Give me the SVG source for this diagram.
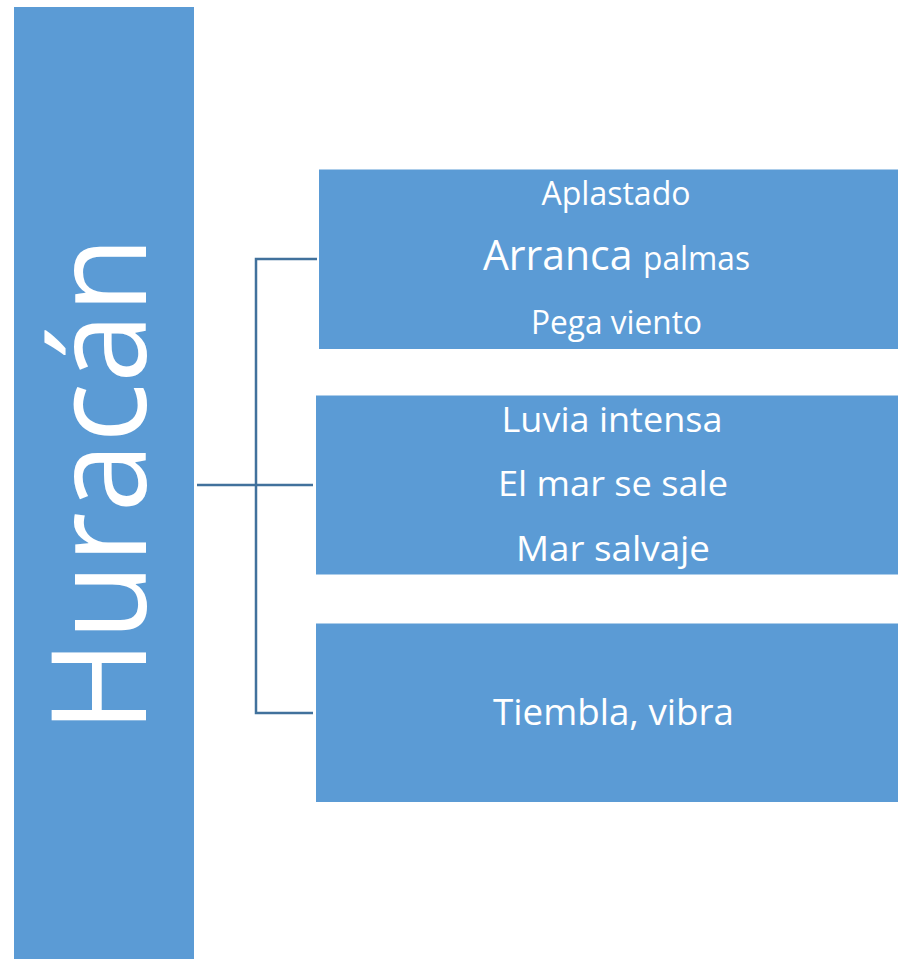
<svg xmlns="http://www.w3.org/2000/svg" width="898" height="959" viewBox="0 0 898 959">
<style>
.box{fill:#5B9BD5;}
.t{fill:#FFFFFF;font-family:"Open Sans","Noto Sans",sans-serif;text-anchor:middle;}
.c{stroke:#41719C;stroke-width:2.5;fill:none;}
</style>
<rect width="898" height="959" fill="#FFFFFF"/>
<g id="connectors">
<path class="c" d="M197 485H313"/>
<path class="c" d="M317 259H256V713H313"/>
</g>
<g id="huracan">
<rect class="box" x="14" y="7" width="180" height="952"/>
<text class="t" transform="translate(146,484.5) rotate(-90)" font-size="131" textLength="496" lengthAdjust="spacingAndGlyphs">Huracán</text>
</g>
<g id="node1">
<rect class="box" x="319" y="169.5" width="579" height="179.5"/>
<text class="t" x="616" y="205" font-size="32.5" textLength="149" lengthAdjust="spacingAndGlyphs">Aplastado</text>
<text class="t" x="616.5" y="270" font-size="42" textLength="267" lengthAdjust="spacingAndGlyphs">Arranca <tspan font-size="32.5">palmas</tspan></text>
<text class="t" x="616.5" y="334" font-size="32.5" textLength="171" lengthAdjust="spacingAndGlyphs">Pega viento</text>
</g>
<g id="node2">
<rect class="box" x="316" y="395.5" width="582" height="179"/>
<text class="t" x="612" y="431.5" font-size="35" textLength="221" lengthAdjust="spacingAndGlyphs">Luvia intensa</text>
<text class="t" x="613" y="496" font-size="35" textLength="230" lengthAdjust="spacingAndGlyphs">El mar se sale</text>
<text class="t" x="613" y="561" font-size="35" textLength="194" lengthAdjust="spacingAndGlyphs">Mar salvaje</text>
</g>
<g id="node3">
<rect class="box" x="316" y="623.5" width="582" height="178.5"/>
<text class="t" x="613.5" y="725" font-size="37" textLength="241" lengthAdjust="spacingAndGlyphs">Tiembla, vibra</text>
</g>
</svg>
